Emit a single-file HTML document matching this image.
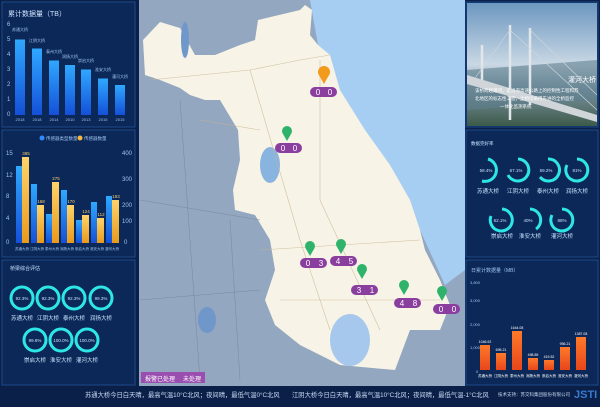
<!DOCTYPE html>
<html><head><meta charset="utf-8"><style>
body{margin:0;width:600px;height:402px;overflow:hidden;background:#0a2048;font-family:"Liberation Sans","Noto Sans CJK SC",sans-serif}
</style></head><body>
<svg width="600" height="402" xmlns="http://www.w3.org/2000/svg" font-family="Liberation Sans, Noto Sans CJK SC, sans-serif">
<defs>
<linearGradient id="bb" x1="0" y1="0" x2="0" y2="1"><stop offset="0" stop-color="#2fa8ff"/><stop offset="1" stop-color="#1450d8"/></linearGradient>
<linearGradient id="ob" x1="0" y1="0" x2="0" y2="1"><stop offset="0" stop-color="#ffd36a"/><stop offset="1" stop-color="#e89a1c"/></linearGradient>
<linearGradient id="rb" x1="0" y1="0" x2="0" y2="1"><stop offset="0" stop-color="#ff7a2a"/><stop offset="1" stop-color="#e8461a"/></linearGradient>
<linearGradient id="sky" x1="0" y1="0" x2="0" y2="1"><stop offset="0" stop-color="#6c97c0"/><stop offset="0.5" stop-color="#c9d8e4"/><stop offset="0.7" stop-color="#7c93a0"/><stop offset="1" stop-color="#3c5a4a"/></linearGradient>
</defs>
<rect width="600" height="402" fill="#0a2048"/>
<g fill="#0c2858" stroke="#1d4a8a" stroke-width="1">
<rect x="2" y="2" width="133" height="125"/><rect x="2" y="130" width="133" height="127"/><rect x="2" y="260" width="133" height="125"/>
<rect x="466" y="2" width="132" height="125"/><rect x="466" y="130" width="132" height="127"/><rect x="466" y="260" width="132" height="125"/>
</g>
<!-- map -->
<rect x="139" y="0" width="326" height="386" fill="#93a7c0"/>
<polygon points="310,0 465,0 465,270 445,285 420,230 340,90 318,45" fill="#a6cdf2"/>
<polygon points="143,40 160,22 180,28 195,55 215,55 240,45 255,40 258,20 300,10 305,5 312,10 310,35 318,45 330,55 340,90 365,130 390,165 410,200 420,230 425,250 440,280 450,305 440,330 410,330 395,370 340,365 300,345 275,325 265,300 275,270 270,240 255,215 235,210 233,190 240,160 238,130 220,100 205,100 190,95 180,88 160,80 145,75" fill="#f7f3e6"/>
<ellipse cx="270" cy="165" rx="10" ry="18" fill="#8ab4e0"/>
<ellipse cx="350" cy="340" rx="20" ry="26" fill="#a6c8ec"/>
<ellipse cx="207" cy="320" rx="9" ry="13" fill="#6f97c9"/>
<ellipse cx="185" cy="40" rx="4" ry="18" fill="#6f97c9"/>
<g stroke="#c8b590" stroke-width="0.6" fill="none" opacity="0.8">
<path d="M150,80 L250,70 L300,60 L330,55"/><path d="M250,70 L300,240 L330,330"/><path d="M320,60 L320,200 L380,330"/><path d="M260,250 L420,240"/><path d="M280,300 L440,300"/><path d="M200,120 L260,130"/>
</g>
<g stroke="#7a8aa0" stroke-width="0.5" fill="none"><path d="M140,200 L260,220"/><path d="M180,100 L200,380"/><path d="M140,300 L260,290"/><path d="M230,220 L240,380"/></g>
<g font-size="8" fill="#fff" text-anchor="middle">
<circle cx="324" cy="72" r="6" fill="#f39a1d"/><path d="M319,75 L324,84 L329,75Z" fill="#f39a1d"/>
<rect x="310" y="87" width="27" height="10" rx="5" fill="#8a3f9f"/><text x="318" y="95">0</text><text x="330" y="95">0</text>
<circle cx="287" cy="131" r="5" fill="#2fb36a"/><path d="M283,134 L287,141 L291,134Z" fill="#2fb36a"/>
<rect x="275" y="143" width="27" height="10" rx="5" fill="#8a3f9f"/><text x="283" y="151">0</text><text x="295" y="151">0</text>
<circle cx="310" cy="246" r="5" fill="#2fb36a"/><path d="M306,249 L310,256 L314,249Z" fill="#2fb36a"/>
<circle cx="341" cy="244" r="5" fill="#2fb36a"/><path d="M337,247 L341,254 L345,247Z" fill="#2fb36a"/>
<rect x="300" y="258" width="27" height="10" rx="5" fill="#8a3f9f"/><text x="308" y="266">0</text><text x="321" y="266">3</text>
<rect x="330" y="256" width="27" height="10" rx="5" fill="#8a3f9f"/><text x="338" y="264">4</text><text x="351" y="264">5</text>
<circle cx="362" cy="269" r="5" fill="#2fb36a"/><path d="M358,272 L362,279 L366,272Z" fill="#2fb36a"/>
<rect x="351" y="285" width="27" height="10" rx="5" fill="#8a3f9f"/><text x="359" y="293">3</text><text x="372" y="293">1</text>
<circle cx="404" cy="285" r="5" fill="#2fb36a"/><path d="M400,288 L404,295 L408,288Z" fill="#2fb36a"/>
<rect x="394" y="298" width="27" height="10" rx="5" fill="#8a3f9f"/><text x="402" y="306">4</text><text x="415" y="306">8</text>
<circle cx="442" cy="291" r="5" fill="#2fb36a"/><path d="M438,294 L442,301 L446,294Z" fill="#2fb36a"/>
<rect x="433" y="304" width="27" height="10" rx="5" fill="#8a3f9f"/><text x="441" y="312">0</text><text x="454" y="312">0</text>
<rect x="141" y="372" width="64" height="11" fill="#9a4fb0"/>
<text x="160" y="381" font-size="6">报警已处理</text><text x="192" y="381" font-size="6">未处理</text>
</g>
<!-- panel 1 -->
<g font-size="6" fill="#9fc4ef">
<text x="8" y="16" font-size="7" fill="#cfe3ff">累计数据量（TB）</text>
<text x="7" y="26">6</text><text x="7" y="41">5</text><text x="7" y="56">4</text><text x="7" y="71">3</text><text x="7" y="86">2</text><text x="7" y="101">1</text><text x="7" y="116">0</text>
<g fill="url(#bb)">
<rect x="15" y="39.5" width="10" height="75.5"/><rect x="32" y="48.5" width="10" height="66.5"/><rect x="49" y="60.5" width="10" height="54.5"/><rect x="65" y="65" width="10" height="50"/><rect x="81" y="69.5" width="10" height="45.5"/><rect x="98" y="78.5" width="10" height="36.5"/><rect x="115" y="85" width="10" height="30"/>
</g>
<g font-size="4" text-anchor="middle"><text x="20" y="121">2018</text><text x="37" y="121">2018</text><text x="54" y="121">2014</text><text x="70" y="121">2010</text><text x="86" y="121">2013</text><text x="103" y="121">2015</text><text x="120" y="121">2015</text>
<text x="20" y="31">苏通大桥</text><text x="37" y="42">江阴大桥</text><text x="54" y="53">泰州大桥</text><text x="70" y="58">润扬大桥</text><text x="86" y="62">崇启大桥</text><text x="103" y="71">淮安大桥</text><text x="120" y="78">灌河大桥</text></g>
</g>
<!-- panel 2 -->
<g font-size="6" fill="#9fc4ef">
<circle cx="42" cy="138" r="2.5" fill="#2f8cff"/><text x="46" y="140" font-size="4.5">传感器类型数量</text>
<circle cx="80" cy="138" r="2.5" fill="#f5b840"/><text x="84" y="140" font-size="4.5">传感器数量</text>
<text x="6" y="155">15</text><text x="6" y="177">12</text><text x="6" y="198">8</text><text x="6" y="220">4</text><text x="6" y="244">0</text>
<text x="122" y="155">400</text><text x="122" y="181">300</text><text x="122" y="207">200</text><text x="122" y="223">100</text><text x="124" y="244">0</text>
<g fill="url(#bb)"><rect x="16" y="166" width="6" height="77"/><rect x="31" y="184" width="6" height="59"/><rect x="46" y="214" width="6" height="29"/><rect x="61" y="190" width="6" height="53"/><rect x="76" y="220" width="6" height="23"/><rect x="91" y="202" width="6" height="41"/><rect x="106" y="196" width="6" height="47"/></g>
<g fill="url(#ob)"><rect x="22" y="157" width="7" height="86"/><rect x="37" y="205" width="7" height="38"/><rect x="52" y="182" width="7" height="61"/><rect x="67" y="205" width="7" height="38"/><rect x="82" y="215" width="7" height="28"/><rect x="97" y="218" width="7" height="25"/><rect x="112" y="200" width="7" height="43"/></g>
<g font-size="4.5" text-anchor="middle" fill="#f5d070"><text x="26" y="155">385</text><text x="41" y="203">168</text><text x="56" y="180">275</text><text x="71" y="203">170</text><text x="86" y="213">124</text><text x="101" y="216">112</text><text x="116" y="198">193</text></g>
<g font-size="3.5" text-anchor="middle"><text x="22" y="250">苏通大桥</text><text x="37" y="250">江阴大桥</text><text x="52" y="250">泰州大桥</text><text x="67" y="250">润扬大桥</text><text x="82" y="250">崇启大桥</text><text x="97" y="250">淮安大桥</text><text x="112" y="250">灌河大桥</text></g>
</g>
<!-- panel 3 rings -->
<g fill="none" stroke="#2ee6e6" stroke-width="3">
<circle cx="22" cy="298" r="11"/><circle cx="48" cy="298" r="11"/><circle cx="74" cy="298" r="11"/><circle cx="101" cy="298" r="11"/>
<circle cx="35" cy="340" r="11"/><circle cx="61" cy="340" r="11"/><circle cx="87" cy="340" r="11"/>
</g>
<g font-size="4.5" fill="#c8e4ff" text-anchor="middle">
<text x="10" y="270" font-size="5" text-anchor="start">桥梁综合评估</text>
<text x="22" y="300">92.3%</text><text x="48" y="300">92.3%</text><text x="74" y="300">92.3%</text><text x="101" y="300">99.3%</text>
<text x="35" y="342">99.8%</text><text x="61" y="342">100.0%</text><text x="87" y="342">100.0%</text>
<g font-size="5.5"><text x="22" y="320">苏通大桥</text><text x="48" y="320">江阴大桥</text><text x="74" y="320">泰州大桥</text><text x="101" y="320">润扬大桥</text>
<text x="35" y="362">崇启大桥</text><text x="61" y="362">淮安大桥</text><text x="87" y="362">灌河大桥</text></g>
</g>
<!-- photo -->
<rect x="467" y="3" width="130" height="123" fill="url(#sky)"/>
<polygon points="467,70 597,60 597,100 467,110" fill="#5e7e90" opacity="0.6"/>
<g stroke="#e0e6ea" stroke-width="2.5"><line x1="510" y1="25" x2="510" y2="120"/><line x1="530" y1="28" x2="530" y2="105"/><line x1="482" y1="45" x2="482" y2="80"/></g>
<g stroke="#d0d8dc" stroke-width="0.6"><line x1="510" y1="30" x2="597" y2="110"/><line x1="510" y1="30" x2="470" y2="85"/><line x1="530" y1="30" x2="597" y2="95"/></g>
<polygon points="467,75 597,115 597,122 467,84" fill="#cfd5d8"/>
<g fill="#fff" font-size="4.5"><text x="568" y="82" font-size="7">灌河大桥</text>
<text x="475" y="92">该桥跨越灌河，是沿海高速公路上的控制性工程和苏</text><text x="475" y="100">北地区的标志性工程，全桥均采用先进的全桥监控</text><text x="500" y="108">一体化监测系统</text></g>
<!-- right rings -->
<g fill="none" stroke="#2ee6e6" stroke-width="3">
<path d="M488,159 A11,11 0 1,1 482,181"/><path d="M518,159 A11,11 0 1,1 508,175"/><path d="M548,159 A11,11 0 1,1 540,177"/><path d="M577,159 A11,11 0 1,1 567,165"/>
<path d="M502,209 A11,11 0 1,1 491,216"/><path d="M530,209 A11,11 0 0,1 536,229"/><path d="M562,209 A11,11 0 1,1 552,215"/>
</g>
<g font-size="4.5" fill="#c8e4ff" text-anchor="middle">
<text x="471" y="145" text-anchor="start">数据完好率</text>
<text x="486" y="172">58.4%</text><text x="516" y="172">67.1%</text><text x="546" y="172">59.2%</text><text x="577" y="172">81%</text>
<text x="500" y="222">62.1%</text><text x="528" y="222">40%</text><text x="562" y="222">88%</text>
<g font-size="5.5"><text x="488" y="193">苏通大桥</text><text x="518" y="193">江阴大桥</text><text x="548" y="193">泰州大桥</text><text x="577" y="193">润扬大桥</text>
<text x="502" y="238">崇启大桥</text><text x="530" y="238">淮安大桥</text><text x="562" y="238">灌河大桥</text></g>
</g>
<!-- right bars -->
<g font-size="4" fill="#9fc4ef">
<text x="471" y="272" font-size="5">日累计数据量（MB）</text>
<text x="470" y="284">3,800</text><text x="470" y="302">3,000</text><text x="470" y="326">2,000</text><text x="470" y="349">1,000</text><text x="476" y="373">0</text>
<g fill="url(#rb)"><rect x="480" y="345" width="10" height="25"/><rect x="496" y="353" width="10" height="17"/><rect x="512" y="331" width="10" height="39"/><rect x="528" y="358" width="10" height="12"/><rect x="544" y="360" width="10" height="10"/><rect x="560" y="347" width="10" height="23"/><rect x="576" y="337" width="10" height="33"/></g>
<g font-size="3.5" text-anchor="middle" fill="#fff"><text x="485" y="343">1046.92</text><text x="501" y="351">695.21</text><text x="517" y="329">1644.08</text><text x="533" y="356">498.89</text><text x="549" y="358">419.52</text><text x="565" y="345">956.21</text><text x="581" y="335">1387.08</text>
<text x="485" y="377">苏通大桥</text><text x="501" y="377">江阴大桥</text><text x="517" y="377">泰州大桥</text><text x="533" y="377">润扬大桥</text><text x="549" y="377">崇启大桥</text><text x="565" y="377">淮安大桥</text><text x="581" y="377">灌河大桥</text></g>
</g>
<!-- ticker -->
<g fill="#c8dcf5" font-size="6.3"><text x="85" y="397">苏通大桥今日白天晴，最高气温10°C北风；夜间晴，最低气温0°C北风</text>
<text x="292" y="397">江阴大桥今日白天晴，最高气温10°C北风；夜间晴，最低气温-1°C北风</text>
<text x="498" y="396" font-size="4.5">技术支持：苏交科集团股份有限公司</text>
<text x="574" y="398" font-size="11" font-weight="bold" fill="#3a7ad0">JSTI</text></g>
</svg>
</body></html>
